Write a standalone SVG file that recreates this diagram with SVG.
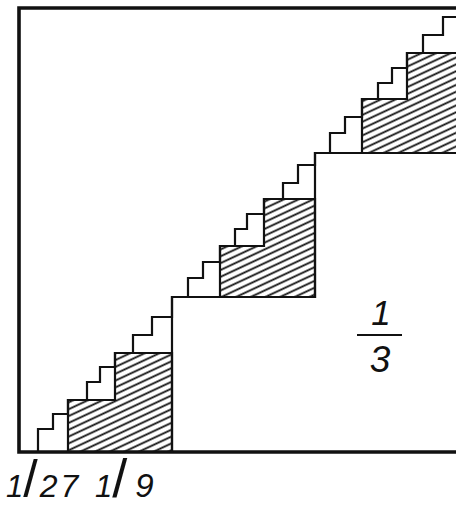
<svg xmlns="http://www.w3.org/2000/svg" width="456" height="508" viewBox="0 0 456 508">
  <style>
    .ln { fill: none; stroke: #111; stroke-width: 2.2; stroke-linejoin: miter; stroke-linecap: square; }
    .frame { fill: none; stroke: #111; stroke-width: 3.6; }
    .hatch { fill: url(#hatch); stroke: #111; stroke-width: 2.2; }
    .num { font-family: "Liberation Sans", Arial, sans-serif; font-style: italic; fill: #111; }
    .sl { font-style: normal; }
  </style>
  <defs>
    <pattern id="hatch" patternUnits="userSpaceOnUse" width="10" height="6.2" patternTransform="rotate(-25)">
      <line x1="-1" y1="3.1" x2="11" y2="3.1" stroke="#111" stroke-width="1.8"/>
    </pattern>
  </defs>
  <rect width="456" height="508" fill="#fff"/>

  <g id="frame">
    <path class="frame" d="M460,8 H19 V452 H460"/>
  </g>

  <g id="hatched-blocks">
    <polygon id="block-1-9" class="hatch" points="68,452 68,400 115,400 115,353 172,353 172,452"/>
    <polygon id="block-mid" class="hatch" points="220,297 220,246 264,246 264,199 315,199 315,297"/>
    <polygon id="block-top" class="hatch" points="362,153 362,99 407,99 407,53 460,53 460,153"/>
  </g>

  <g id="block-1-3">
    <path class="ln" d="M172,452 V297 H315 V153 H460"/>
  </g>

  <g id="staircase">
    <path class="ln" d="M38,452 V429 H53 V414 H68 V400 H87 V382 H100 V367 H115 V353 H133 V335 H152 V317 H172 V297 H188 V278 H203 V262 H220 V246 H235 V229 H247 V214 H264 V199 H283 V183 H298 V165 H315 V153 H330 V133 H345 V117 H362 V99 H378 V83 H392 V68 H407 V53 H423 V35 H443 V17 H460"/>
  </g>

  <g id="label-1-3">
    <text class="num" x="381" y="325" font-size="35" text-anchor="middle">1</text>
    <line x1="357" y1="335" x2="402" y2="335" stroke="#111" stroke-width="2"/>
    <text class="num" x="380" y="372" font-size="37" text-anchor="middle">3</text>
  </g>

  <g id="label-1-27">
    <text class="num" x="6" y="497" font-size="31">1<tspan class="sl" font-size="52">/</tspan><tspan dx="2" font-size="32" letter-spacing="3">27</tspan></text>
  </g>

  <g id="label-1-9">
    <text class="num" x="95" y="497" font-size="31">1<tspan class="sl" font-size="54">/</tspan><tspan dx="8" font-size="33">9</tspan></text>
  </g>
</svg>
